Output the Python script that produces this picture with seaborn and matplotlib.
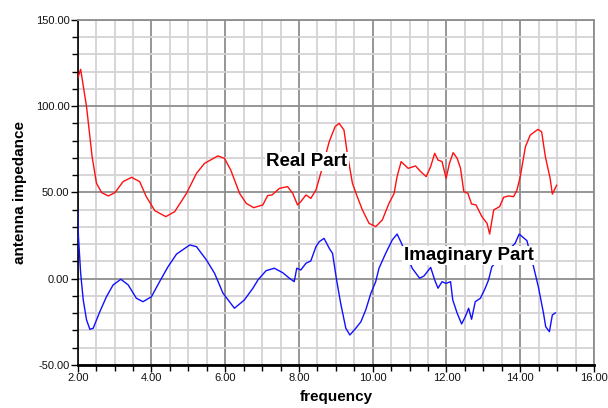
import seaborn as sns
import matplotlib.pyplot as plt
import pandas as pd
from matplotlib.ticker import MultipleLocator, FormatStrFormatter

# values
real_freq = [2.00, 2.08, 2.24, 2.39, 2.51, 2.65, 2.83, 3.01, 3.23, 3.46, 3.68, 3.86, 4.09, 4.39, 4.63, 4.95, 5.22, 5.44, 5.80, 5.98,
             6.15, 6.39, 6.57, 6.77, 7.02, 7.15, 7.27, 7.47, 7.69, 7.83, 7.96, 8.05, 8.19, 8.32, 8.46, 8.59, 8.82, 8.98, 9.09, 9.22,
             9.31, 9.45, 9.58, 9.72, 9.90, 10.08, 10.26, 10.44, 10.58, 10.66, 10.77, 10.96, 11.16, 11.30, 11.45, 11.57, 11.68, 11.77, 11.88, 11.99,
             12.08, 12.18, 12.29, 12.38, 12.47, 12.58, 12.68, 12.80, 12.96, 13.10, 13.17, 13.28, 13.44, 13.55, 13.68, 13.82, 13.91, 14.00, 14.14, 14.27,
             14.48, 14.58, 14.68, 14.81, 14.87, 14.99]
real_part = [116.2, 121.4, 99.7, 70.8, 55.3, 49.9, 48.0, 49.9, 56.3, 58.8, 56.3, 47.6, 39.5, 36.0, 38.9, 49.5, 61.1, 66.9, 71.2, 69.8,
             63.0, 49.5, 43.7, 41.2, 42.8, 48.2, 48.6, 52.4, 53.4, 49.5, 42.8, 44.7, 48.6, 46.6, 51.4, 61.1, 79.5, 88.2, 90.1, 86.2,
             72.7, 55.3, 47.6, 39.9, 32.1, 30.2, 34.1, 43.7, 49.5, 59.2, 67.9, 64.0, 65.4, 62.1, 59.2, 65.0, 72.7, 68.8, 67.9, 58.2,
             66.9, 73.1, 69.8, 64.0, 50.5, 49.5, 43.3, 42.8, 36.0, 32.1, 25.9, 39.9, 41.8, 47.2, 48.0, 47.6, 51.4, 59.2, 76.5, 83.3,
             86.6, 85.2, 70.8, 58.2, 49.1, 54.3]

imag_freq = [2.00, 2.02, 2.08, 2.15, 2.24, 2.33, 2.42, 2.60, 2.78, 2.96, 3.17, 3.37, 3.59, 3.77, 4.00, 4.22, 4.45, 4.68, 5.04, 5.22,
             5.49, 5.71, 5.94, 6.25, 6.52, 6.75, 6.90, 7.11, 7.33, 7.56, 7.74, 7.87, 7.94, 8.05, 8.19, 8.32, 8.46, 8.55, 8.68, 8.82,
             8.91, 9.02, 9.13, 9.27, 9.38, 9.54, 9.68, 9.81, 9.95, 10.08, 10.17, 10.35, 10.53, 10.66, 10.76, 11.07, 11.27, 11.39, 11.57, 11.68,
             11.77, 11.88, 11.99, 12.11, 12.17, 12.29, 12.41, 12.51, 12.60, 12.68, 12.78, 12.92, 13.05, 13.14, 13.23, 13.55, 13.86, 13.97, 14.18, 14.36,
             14.49, 14.63, 14.69, 14.79, 14.87, 14.96]
imag_part = [39.9, 24.4, 3.2, -12.3, -23.9, -29.3, -28.7, -19.1, -10.4, -3.6, -0.3, -3.6, -11.3, -13.3, -10.4, -1.7, 7.0, 14.3, 19.6, 18.6,
             10.9, 3.2, -8.4, -17.1, -12.3, -5.5, -0.3, 4.7, 6.1, 3.5, 0.3, -1.7, 6.1, 5.1, 9.0, 10.3, 18.6, 21.5, 23.4, 17.7,
             14.7, -0.7, -14.2, -28.7, -32.6, -28.7, -24.9, -18.1, -8.4, -1.7, 6.1, 14.7, 22.5, 25.9, 21.5, 6.1, 0.3, 1.6, 6.6, -0.7,
             -5.5, -1.7, -2.7, -1.7, -12.3, -20.0, -26.2, -22.0, -17.1, -23.5, -13.3, -11.3, -5.5, -0.7, 7.0, 14.0, 20.5, 25.9, 22.1, 7.0,
             -4.6, -20.0, -27.8, -30.7, -21.0, -19.7]

real_df = pd.DataFrame({'frequency': real_freq, 'impedance': real_part})
imag_df = pd.DataFrame({'frequency': imag_freq, 'impedance': imag_part})

sns.set_style('white')
plt.rcParams['font.family'] = ['Liberation Sans', 'DejaVu Sans']

fig = plt.figure(figsize=(6.08, 4.08), dpi=100)
ax = fig.add_axes([0.1278, 0.1054, 0.8492, 0.8456])

sns.lineplot(data=real_df, x='frequency', y='impedance', color='#ff1010', lw=1, estimator=None, sort=False, ax=ax, zorder=3)
sns.lineplot(data=imag_df, x='frequency', y='impedance', color='#1010ff', lw=1, estimator=None, sort=False, ax=ax, zorder=3)

ax.set_xlim(2, 16)
ax.set_ylim(-50, 150)
ax.xaxis.set_major_locator(MultipleLocator(2))
ax.xaxis.set_minor_locator(MultipleLocator(0.5))
ax.yaxis.set_major_locator(MultipleLocator(50))
ax.yaxis.set_minor_locator(MultipleLocator(10))
ax.xaxis.set_major_formatter(FormatStrFormatter('%.2f'))
ax.yaxis.set_major_formatter(FormatStrFormatter('%.2f'))

ax.grid(which='minor', color='#d6d2d6', lw=1.3)
ax.grid(which='major', color='#8e8e8e', lw=1.3)
ax.set_axisbelow(True)

ax.tick_params(which='both', direction='out', color='black', labelsize=8, labelcolor='#111111',
               left=True, bottom=True, pad=1)
ax.tick_params(which='major', length=5, width=1)
ax.tick_params(which='minor', length=4, width=1)

for side in ['left', 'bottom']:
    ax.spines[side].set_color('black')
ax.spines['left'].set_linewidth(1.2)
ax.spines['bottom'].set_linewidth(2)
ax.spines['top'].set_color('#8e8e8e')
ax.spines['right'].set_color('#8e8e8e')
ax.spines['top'].set_linewidth(1.3)
ax.spines['right'].set_linewidth(1.3)

ax.set_xlabel('frequency', fontsize=11, fontweight='bold', color='black', labelpad=5)
ax.set_ylabel('antenna impedance', fontsize=11, fontweight='bold', color='black', labelpad=6)

box = dict(facecolor='white', edgecolor='none', pad=1)
ax.text(8.21, 68, 'Real Part', fontsize=13.5, fontweight='bold', color='black',
        ha='center', va='center', bbox=box, zorder=4)
ax.text(12.6, 13.5, 'Imaginary Part', fontsize=13.5, fontweight='bold', color='black',
        ha='center', va='center', bbox=box, zorder=4)

plt.savefig('out.png', dpi=100)
